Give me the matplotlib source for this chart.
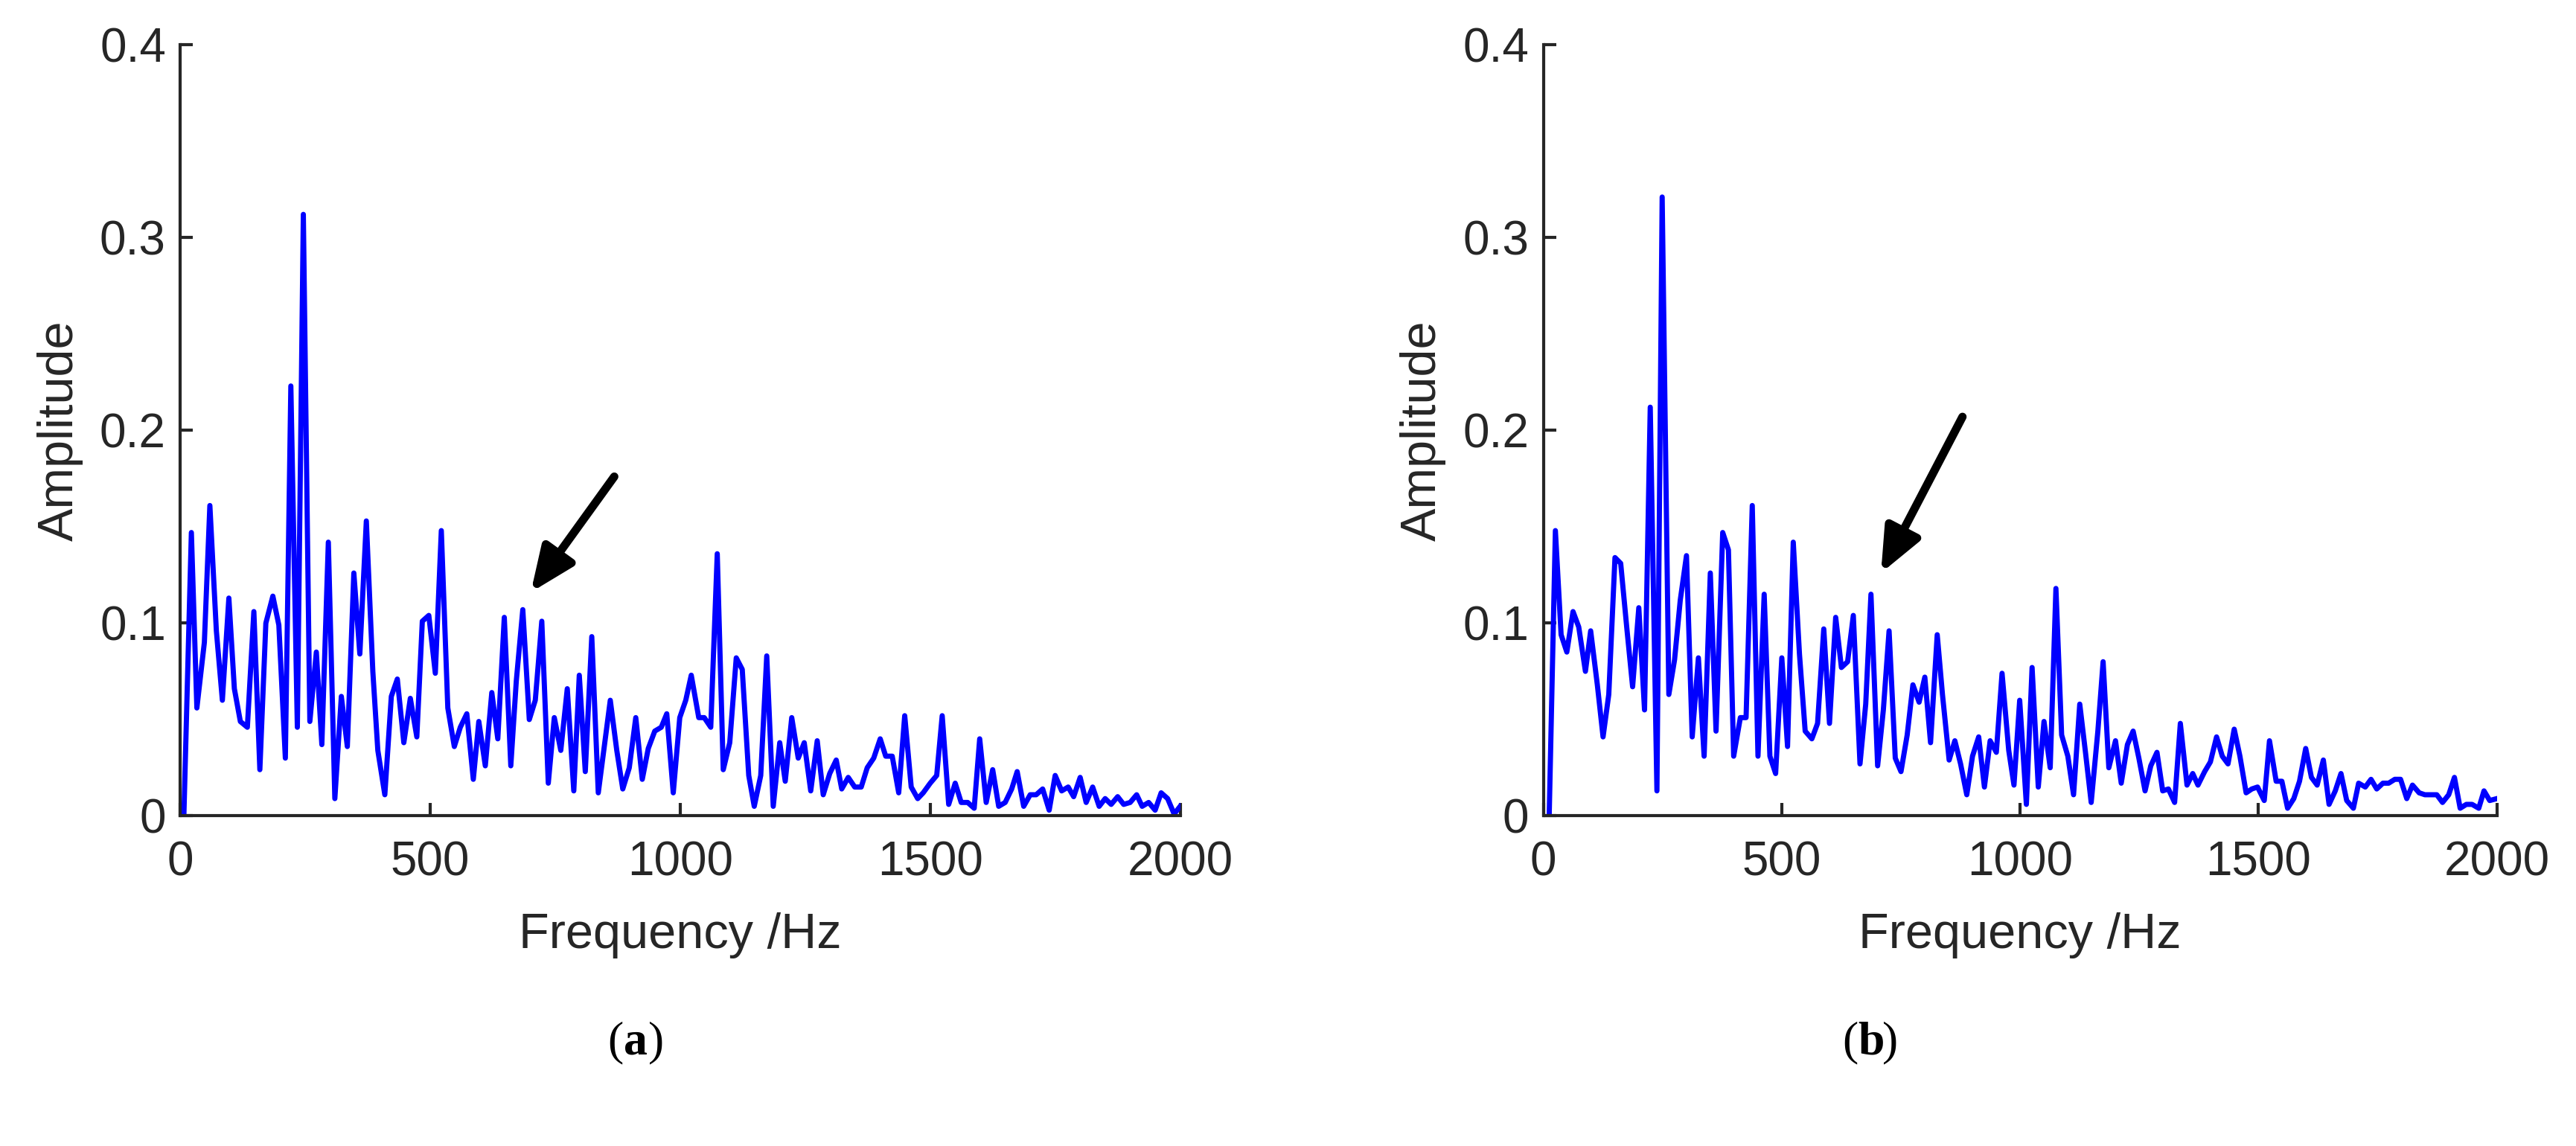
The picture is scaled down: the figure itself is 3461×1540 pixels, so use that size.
import matplotlib.pyplot as plt

freq_a = [7, 22, 33, 48, 59, 72, 84, 97, 108, 120, 134, 147, 159, 171, 185, 197, 210, 221, 234, 246,
          259, 272, 283, 296, 309, 322, 334, 347, 359, 372, 385, 395, 409, 422, 434, 447, 460, 473, 484, 497,
          510, 522, 535, 548, 560, 573, 586, 597, 610, 623, 635, 648, 661, 672, 685, 698, 710, 723, 736, 748,
          761, 774, 787, 798, 810, 823, 836, 847, 860, 873, 885, 898, 911, 924, 936, 949, 962, 973, 986, 999,
          1011, 1022, 1037, 1048, 1061, 1074, 1086, 1099, 1112, 1124, 1137, 1148, 1161, 1173, 1186, 1199, 1210, 1223, 1236, 1248,
          1261, 1274, 1286, 1299, 1312, 1323, 1336, 1349, 1362, 1374, 1387, 1400, 1411, 1424, 1437, 1449, 1462, 1475, 1486, 1500,
          1513, 1524, 1537, 1550, 1562, 1575, 1588, 1599, 1612, 1625, 1637, 1650, 1663, 1674, 1687, 1700, 1712, 1725, 1738, 1750,
          1763, 1776, 1787, 1800, 1812, 1825, 1838, 1850, 1862, 1875, 1887, 1900, 1913, 1924, 1937, 1950, 1962, 1975, 1988, 2000]
amp_a = [0, 0.147, 0.056, 0.09, 0.161, 0.096, 0.06, 0.113, 0.066, 0.049, 0.046, 0.106, 0.024, 0.1, 0.114, 0.099, 0.03, 0.223, 0.046, 0.312,
         0.049, 0.085, 0.037, 0.142, 0.009, 0.062, 0.036, 0.126, 0.084, 0.153, 0.075, 0.034, 0.011, 0.062, 0.071, 0.038, 0.061, 0.041, 0.101, 0.104,
         0.074, 0.148, 0.056, 0.036, 0.046, 0.053, 0.019, 0.049, 0.026, 0.064, 0.04, 0.103, 0.026, 0.07, 0.107, 0.05, 0.06, 0.101, 0.017, 0.051,
         0.034, 0.066, 0.013, 0.073, 0.023, 0.093, 0.012, 0.034, 0.06, 0.034, 0.014, 0.025, 0.051, 0.019, 0.035, 0.044, 0.046, 0.053, 0.012, 0.051,
         0.06, 0.073, 0.051, 0.051, 0.046, 0.136, 0.024, 0.038, 0.082, 0.076, 0.021, 0.005, 0.021, 0.083, 0.005, 0.038, 0.018, 0.051, 0.03, 0.038,
         0.013, 0.039, 0.011, 0.022, 0.029, 0.014, 0.02, 0.015, 0.015, 0.025, 0.03, 0.04, 0.031, 0.031, 0.012, 0.052, 0.015, 0.009, 0.012, 0.017,
         0.021, 0.052, 0.006, 0.017, 0.007, 0.007, 0.004, 0.04, 0.007, 0.024, 0.005, 0.007, 0.014, 0.023, 0.005, 0.011, 0.011, 0.014, 0.003, 0.021,
         0.013, 0.015, 0.01, 0.02, 0.007, 0.015, 0.005, 0.009, 0.006, 0.01, 0.006, 0.007, 0.011, 0.005, 0.007, 0.003, 0.012, 0.009, 0.001, 0.005]

freq_b = [12, 25, 37, 49, 62, 74, 88, 99, 113, 125, 137, 150, 162, 175, 187, 200, 212, 224, 238, 249,
          263, 275, 287, 300, 312, 325, 337, 350, 362, 376, 388, 399, 413, 425, 438, 450, 463, 475, 487, 500,
          512, 524, 537, 549, 563, 575, 588, 600, 613, 625, 638, 650, 664, 676, 687, 701, 713, 725, 738, 750,
          763, 775, 788, 800, 812, 826, 837, 851, 863, 875, 888, 900, 913, 925, 937, 950, 962, 976, 987, 999,
          1013, 1025, 1038, 1050, 1063, 1075, 1087, 1100, 1112, 1125, 1137, 1149, 1163, 1174, 1186, 1200, 1212, 1225, 1237, 1249,
          1262, 1274, 1287, 1299, 1311, 1324, 1336, 1350, 1362, 1373, 1387, 1399, 1412, 1424, 1436, 1449, 1461, 1474, 1486, 1498,
          1512, 1523, 1537, 1549, 1561, 1574, 1586, 1599, 1611, 1623, 1636, 1648, 1661, 1673, 1685, 1699, 1710, 1724, 1736, 1748,
          1761, 1773, 1786, 1798, 1811, 1823, 1837, 1849, 1860, 1874, 1886, 1899, 1911, 1923, 1936, 1948, 1962, 1973, 1985, 2000]
amp_b = [0, 0.148, 0.094, 0.085, 0.106, 0.098, 0.075, 0.096, 0.068, 0.041, 0.063, 0.134, 0.131, 0.097, 0.067, 0.108, 0.055, 0.212, 0.013, 0.321,
         0.063, 0.081, 0.112, 0.135, 0.041, 0.082, 0.031, 0.126, 0.044, 0.147, 0.138, 0.031, 0.051, 0.051, 0.161, 0.031, 0.115, 0.031, 0.022, 0.082,
         0.036, 0.142, 0.084, 0.044, 0.04, 0.048, 0.097, 0.048, 0.103, 0.077, 0.08, 0.104, 0.027, 0.058, 0.115, 0.026, 0.055, 0.096, 0.03, 0.023,
         0.042, 0.068, 0.059, 0.072, 0.038, 0.094, 0.063, 0.029, 0.039, 0.027, 0.011, 0.031, 0.041, 0.015, 0.039, 0.033, 0.074, 0.034, 0.016, 0.06,
         0.006, 0.077, 0.015, 0.049, 0.025, 0.118, 0.042, 0.031, 0.011, 0.058, 0.033, 0.007, 0.044, 0.08, 0.025, 0.039, 0.017, 0.037, 0.044, 0.03,
         0.013, 0.026, 0.033, 0.013, 0.014, 0.007, 0.048, 0.016, 0.022, 0.016, 0.023, 0.028, 0.041, 0.031, 0.027, 0.045, 0.031, 0.012, 0.014, 0.015,
         0.008, 0.039, 0.018, 0.018, 0.004, 0.009, 0.018, 0.035, 0.02, 0.016, 0.029, 0.006, 0.013, 0.022, 0.008, 0.004, 0.017, 0.015, 0.019, 0.014,
         0.017, 0.017, 0.019, 0.019, 0.009, 0.016, 0.012, 0.011, 0.011, 0.011, 0.007, 0.011, 0.02, 0.004, 0.006, 0.006, 0.004, 0.013, 0.008, 0.009]

# arrows (tail, tip) in data coords
arrow_a = ((868, 0.176), (701, 0.116))
arrow_b = ((879, 0.207), (708, 0.126))

plt.rcParams['font.family'] = ['Liberation Sans', 'DejaVu Sans']
fig = plt.figure(figsize=(34.62, 15.4), dpi=100)

panels = [
    ([0.070, 0.288, 0.388, 0.673], freq_a, amp_a, arrow_a, 'a', 0.242),
    ([0.599, 0.288, 0.370, 0.673], freq_b, amp_b, arrow_b, 'b', 0.721),
]
for rect, fx, ay, arr, cap, cx in panels:
    ax = fig.add_axes(rect)
    ax.plot(fx, ay, color='#0000ff', lw=5)
    ax.set_xlim(0, 2000)
    ax.set_ylim(0, 0.4)
    ax.set_xticks([0, 500, 1000, 1500, 2000])
    ax.set_yticks([0, 0.1, 0.2, 0.3, 0.4])
    ax.set_yticklabels(['0', '0.1', '0.2', '0.3', '0.4'])
    for s in ['top', 'right']:
        ax.spines[s].set_visible(False)
    for s in ['left', 'bottom']:
        ax.spines[s].set_linewidth(3)
        ax.spines[s].set_color('#262626')
    ax.tick_params(direction='in', length=12, width=3, color='#262626',
                   labelsize=46, labelcolor='#262626', pad=14)
    ax.tick_params(axis='x', pad=24)
    ax.set_xlabel('Frequency /Hz', fontsize=48, color='#262626', labelpad=26)
    ax.set_ylabel('Amplitude', fontsize=48, color='#262626', labelpad=16)
    ax.annotate('', xy=arr[1], xytext=arr[0],
                arrowprops=dict(arrowstyle='-|>,head_length=0.75,head_width=0.32',
                                color='black', lw=8, shrinkA=0, shrinkB=0,
                                mutation_scale=48))
    fig.text(cx, 0.09, '(', fontsize=46, family='Liberation Serif', ha='right', va='center')
    fig.text(cx, 0.09, cap, fontsize=46, family='Liberation Serif', weight='bold', ha='left', va='center')
    fig.text(cx + 0.0095, 0.09, ')', fontsize=46, family='Liberation Serif', ha='left', va='center')

fig.savefig('out.png')
